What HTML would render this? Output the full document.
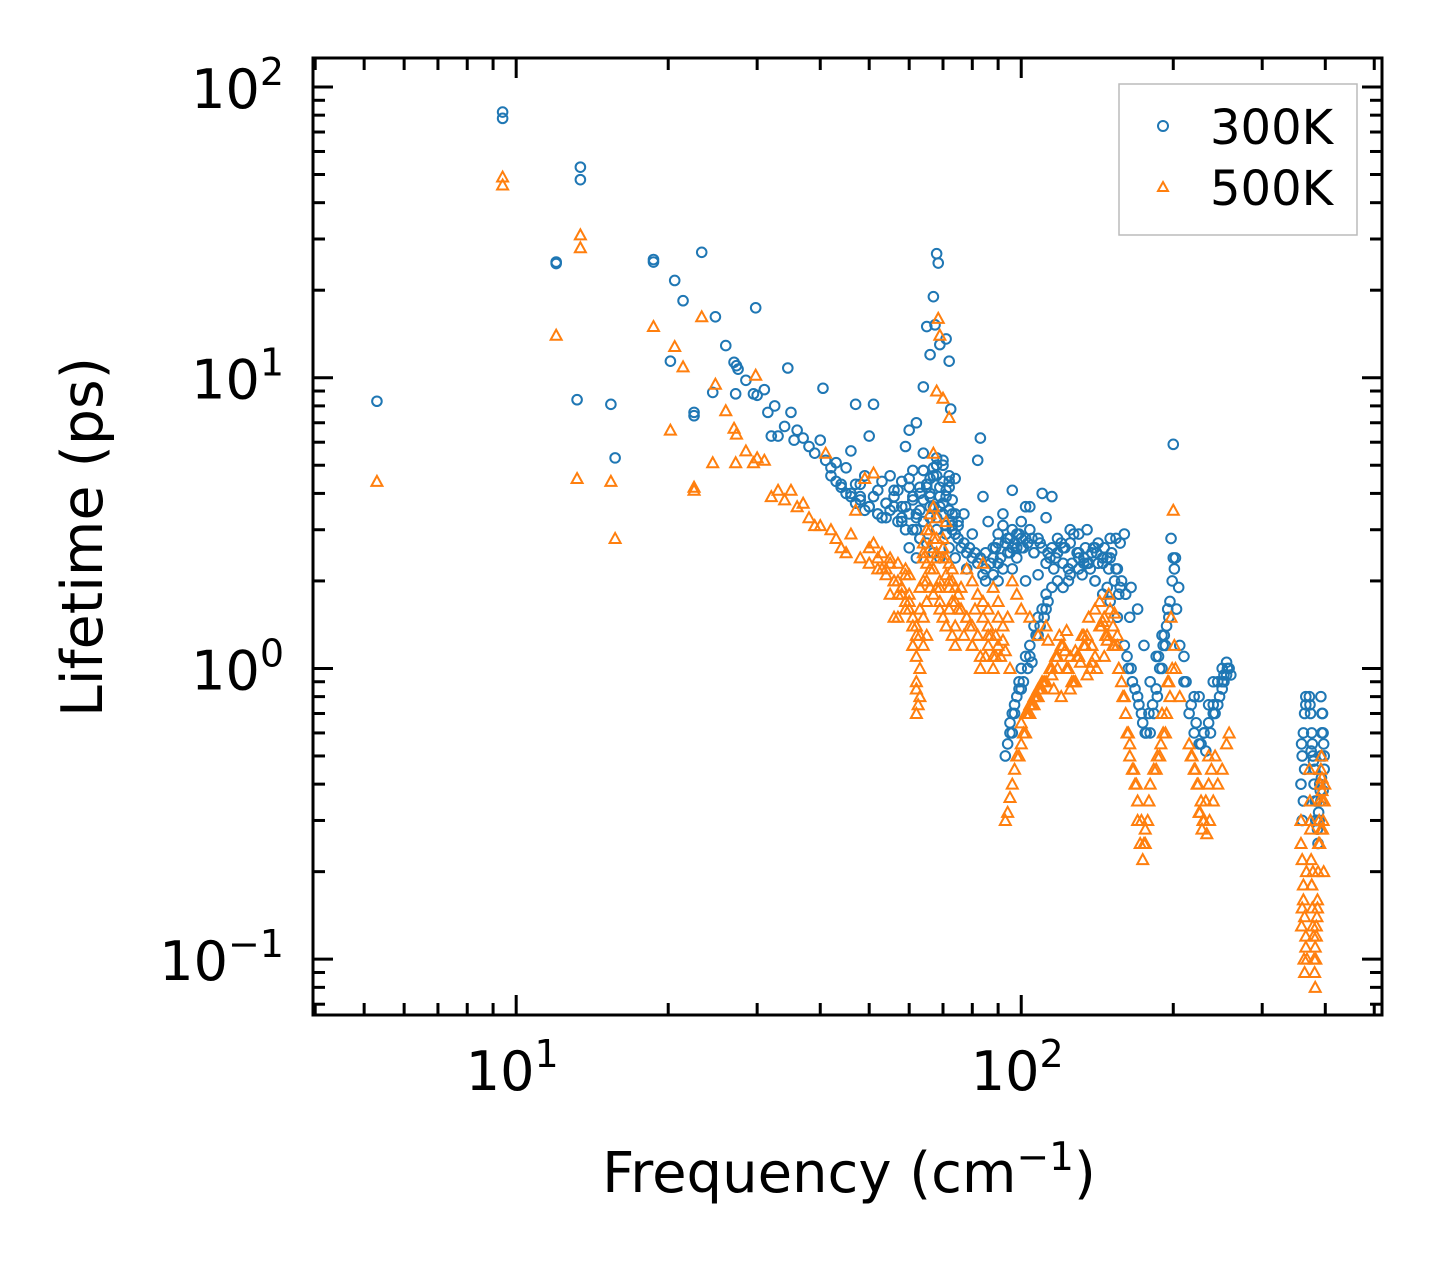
<!DOCTYPE html>
<html><head><meta charset="utf-8"><style>
body{margin:0;background:#fff}
svg text{font-family:"DejaVu Sans","Liberation Sans",sans-serif;fill:#000}
</style></head><body>
<svg id="chart" width="1442" height="1265" viewBox="0 0 1442 1265" xmlns="http://www.w3.org/2000/svg">
<rect width="1442" height="1265" fill="#fff"/>
<g id="marks"></g>
<g id="axes"></g>
<text x="849" y="1192" font-size="56" text-anchor="middle">Frequency (cm<tspan dy="-22" font-size="39">−1</tspan><tspan dy="22">)</tspan></text>
<text transform="translate(102,537) rotate(-90)" font-size="57" text-anchor="middle">Lifetime (ps)</text>
<g>
<rect x="1119" y="84" width="238" height="151" fill="#fff" stroke="#bbb" stroke-width="1.5"/>
<circle cx="1163" cy="126" r="5" fill="none" stroke="#1f77b4" stroke-width="2"/>
<text x="1210" y="144" font-size="48">300K</text>
<polygon points="1163,182 1168,191 1158,191" fill="none" stroke="#ff7f0e" stroke-width="2"/>
<text x="1210" y="205" font-size="48">500K</text>
</g>
</svg>
<script>
const xTicks=[10,100];
const xTickLabels=["10","10"];
const xTickExps=["1","2"];
const yTicks=[0.1,1,10,100];
const yTickLabels=["10","10","10","10"];
const yTickExps=["−1","0","1","2"];
const blueFreq=[5.3,9.4,9.4,12,12,13.2,13.4,13.4,15.4,15.7,18.7,18.7,20.2,20.6,21.4,22.5,22.5,23.3,24.5,24.8,26,27,27.3,27.5,27.2,28.5,29.5,29.8,30,31,31.5,32,32.5,33,34,34.5,35,35.5,36,37,38,39,40,40.5,41,42,43,44,45,46,47,48,49,50,51,52,53,54,55,56,57,58,59,60,61,62,63,64,65,66,67,67.5,68,68.5,69,70,71,72,72.5,73,74,75,77,80,82,83,84,86,88,90,92,95,96,98,100,102,104,106,108,110,112,115,120,125,130,135,140,145,150,155,160,165,170,175,180,185,190,195,198,200,202,205,210,220,230,240,250,255,
42,43,44,45,46,47,48,49,50,52,54,56,58,60,62,63,64,65,66,67,68,69,70,71,72,73,74,75,76,78,80,82,85,88,90,
60,61,62,63,64,65,66,67,68,69,70,71,72,73,74,66,68,70,72,64,
85,88,90,92,94,96,98,100,103,106,110,114,118,122,126,130,134,138,142,146,150,154,158,
93,94,95,96,97,98,99,100,102,104,106,108,110,112,115,118,121,125,130,135,140,145,150,155,
160,163,166,170,173,176,180,183,186,190,193,196,200,203,206,210,
215,220,225,230,235,240,245,250,255,258,225,235,245,252,
372,374,376,378,380,382,384,386,388,390,392,394,395,373,377,381,385,389,393,375,383,391,379,387,
46,48,50,52,53,55,57,59,61,63,65,67,69,71,73,75,47,51,54,58,62,66,70,74,56,60,64,68,72,
77,79,81,83,85,87,89,91,93,95,97,99,101,105,109,113,117,121,125,129,133,137,141,145,149,153,157,161,
78,84,90,96,102,108,116,124,132,140,148,156,164,
95,97,99,101,103,105,107,109,111,113,96,100,104,108,112,
162,165,168,171,174,177,179,182,185,188,191,194,197,199,201,187,192,
212,217,222,227,232,237,242,247,252,256,260,230,240,250,
358,360,362,364,366,398,396,394,392,360,364,398,394,362,396,366,392,359,397,
58,60,62,64,66,68,70,72,74,59,61,63,65,67,69,71,73,
112,118,124,130,136,142,148,154,115,121,127,133,139,145,151,157,
90,92,94,96,98,100,102,104];
const blueLife=[8.3,82,78,25,24.7,8.4,53,48,8.1,5.3,25.5,25,11.4,21.6,18.4,7.6,7.4,27,8.9,16.2,12.9,11.3,11,10.7,8.8,9.8,8.8,17.4,8.7,9.1,7.6,6.3,8,6.3,6.8,10.8,7.6,6.1,6.6,6.2,5.8,5.5,6.1,9.2,5.2,4.9,5.1,4.3,4.9,5.6,8.1,4.3,4.6,6.3,8.1,4.1,4.4,3.7,4.6,3.9,4.1,4.4,5.8,6.6,4.8,7,4.2,9.3,15,12,19,15.2,26.7,24.8,13,5.2,13.6,11.4,7.8,3.8,4.5,3.2,3.4,2.9,5.2,6.2,3.9,3.2,2.6,2.7,3.4,2.5,4.1,2.6,2.8,3.6,3.6,2.5,2.8,4,3.3,3.9,2.7,3,2.5,3,2.6,2.4,2.8,2.2,2.9,1.9,1.6,1.2,0.9,1.1,1.3,1.6,2.8,5.9,2.4,1.9,1.1,0.8,0.6,0.9,1.0,1.05,
4.6,4.4,4.2,4.0,3.9,3.7,3.9,3.5,3.6,3.4,3.3,3.6,3.2,3.4,3.0,2.8,3.8,4.2,4.5,3.6,3.3,3.9,4.4,3.1,3.5,3.0,2.9,2.8,2.6,2.5,2.4,2.3,2.2,2.4,2.3,
2.6,3.0,2.4,2.8,3.2,2.7,3.3,2.5,3.0,2.4,3.4,2.9,2.6,3.1,2.4,4.0,4.6,5.0,4.2,5.5,
2.0,2.1,2.3,2.2,2.5,2.6,2.4,2.6,2.7,2.5,2.6,2.4,2.5,2.6,2.3,2.4,2.6,2.5,2.3,2.6,2.4,2.2,2.0,
0.5,0.55,0.6,0.7,0.75,0.8,0.9,1.0,1.1,1.2,1.4,1.5,1.6,1.8,1.9,2.0,1.9,2.1,2.2,2.3,2.0,1.8,1.7,1.5,
1.2,1.0,0.9,0.8,0.7,0.6,0.6,0.7,0.8,1.0,1.2,1.5,2.4,1.6,1.2,0.9,
0.7,0.6,0.55,0.6,0.65,0.7,0.75,0.85,0.95,1.0,0.8,0.75,0.9,0.95,
0.8,0.7,0.6,0.5,0.4,0.35,0.3,0.28,0.32,0.4,0.5,0.6,0.7,0.75,0.55,0.45,0.35,0.3,0.42,0.52,0.3,0.38,0.48,0.25,
4.0,3.8,3.6,3.4,3.3,3.5,3.2,3.6,3.8,4.0,4.3,4.6,4.2,3.9,3.4,3.1,4.3,3.9,3.7,3.3,3.4,3.6,3.7,2.9,4.1,4.5,4.8,5.0,4.4,
2.7,2.6,2.5,2.4,2.5,2.3,2.6,2.4,2.7,2.8,2.7,2.9,2.6,2.8,2.7,2.5,2.4,2.6,2.7,2.5,2.3,2.2,2.5,2.4,2.2,2.0,1.9,1.8,
2.2,2.1,2.0,2.2,2.0,2.1,2.2,2.0,2.1,2.0,1.9,1.8,1.5,
0.65,0.7,0.85,0.9,1.0,1.05,1.3,1.4,1.5,1.7,0.6,0.85,1.1,1.3,1.6,
1.1,1.0,0.85,0.75,0.65,0.6,0.7,0.75,0.85,1.0,1.2,1.4,1.7,2.0,2.2,1.1,1.3,
0.9,0.75,0.65,0.55,0.52,0.6,0.7,0.8,0.9,1.0,0.95,0.6,0.75,0.9,
0.4,0.5,0.6,0.7,0.75,0.5,0.6,0.7,0.8,0.3,0.45,0.45,0.6,0.35,0.38,0.8,0.35,0.55,0.55,
3.6,4.2,3.3,4.8,3.9,5.3,3.7,4.6,3.4,3.0,3.9,3.5,4.3,4.9,3.6,4.1,3.2,
2.3,2.8,2.2,2.9,2.3,2.7,2.4,2.8,2.6,2.3,2.9,2.4,2.6,2.3,2.5,2.7,
2.9,3.1,2.8,3.0,2.9,3.2,2.8,3.0];
const orangeFreq=[5.3,9.4,9.4,12,13.2,13.4,13.4,15.4,15.7,18.7,20.2,20.6,21.4,22.5,22.5,23.3,24.5,24.8,26,27,27.3,27.2,28.5,29.5,29.8,30,31,32,33,34,35,36,37,38,39,40,41,42,43,44,45,46,47,48,49,50,51,52,
53,54,55,56,57,58,59,60,61,62,62.5,63,64,65,66,67,68,68.5,69,70,71,72,73,74,75,76,78,80,82,84,86,88,90,
55,57,59,60,61,62,63,64,65,66,67,68,69,70,71,72,73,74,64,66,68,70,72,62,62,63,
76,78,80,82,84,86,88,90,92,94,96,98,100,104,108,112,
93,94,95,96,97,98,100,102,104,106,108,110,112,115,118,121,124,127,130,133,136,140,144,148,152,156,120,128,138,146,
160,162,164,166,168,170,172,174,176,178,180,183,186,190,193,196,198,200,202,206,
215,218,221,224,227,230,233,236,240,245,250,255,258,225,235,
372,373,374,375,376,377,378,379,380,381,382,383,384,385,386,387,388,389,390,391,392,393,394,395,374,378,382,386,390,394,376,384,392,
50,52,54,56,58,60,62,64,66,68,70,72,74,51,55,59,63,67,71,75,53,57,61,65,69,73,64,66,68,70,65,67,69,
76,79,82,85,88,91,77,80,83,86,89,78,84,90,
100,102,104,106,108,110,99,101,103,105,107,109,111,
114,117,120,123,126,129,132,135,138,141,144,147,150,153,156,159,116,122,128,134,140,146,152,158,119,125,131,137,143,149,155,
161,164,167,170,173,176,179,163,169,175,
185,188,191,194,197,199,201,189,195,
217,220,223,226,229,232,235,238,242,228,
358,360,362,364,366,368,398,396,358,362,366,397,360,364,399,395,359,363,367,
56,58,60,62,64,66,68,70,72,74,57,59,61,63,65,67,69,71,73,
113,118,123,128,133,138,143,148,153,115,125,135,145,155,
80,83,86,89,92,95,81,87,93];
const orangeLife=[4.4,49,46,14,4.5,31,28,4.4,2.8,15,6.6,12.8,10.9,4.2,4.1,16.2,5.1,9.5,7.7,6.7,6.4,5.1,5.6,5.1,10.2,5.3,5.2,3.9,4.1,3.8,4.1,3.6,3.7,3.3,3.1,3.1,5.5,3.0,2.8,2.6,2.5,2.9,3.5,2.4,4.5,2.3,4.7,2.2,
2.5,2.1,2.4,2.0,2.3,1.9,1.7,1.6,1.5,1.1,0.75,1.3,2.4,3.0,3.4,5.5,9.0,16,14,8.5,3.2,7.3,2.2,1.9,1.8,1.6,1.5,1.4,1.3,1.5,1.3,1.1,1.2,
1.8,1.5,2.2,1.7,1.4,0.9,0.8,1.2,2.0,2.6,2.2,1.9,1.7,2.8,1.4,1.6,1.3,1.2,2.5,3.0,2.8,2.4,2.0,0.7,0.85,1.0,
1.9,2.2,2.0,1.8,2.3,1.6,1.9,1.7,1.4,1.5,2.0,1.8,1.6,1.5,1.3,1.4,
0.3,0.32,0.36,0.4,0.45,0.5,0.55,0.6,0.7,0.75,0.8,0.85,0.9,1.0,1.1,1.2,1.0,0.9,1.1,1.3,1.5,1.6,1.4,1.3,1.2,1.0,0.8,0.9,1.2,1.1,
0.8,0.6,0.5,0.45,0.4,0.3,0.25,0.22,0.25,0.3,0.4,0.45,0.5,0.7,0.6,0.9,1.5,3.5,1.0,0.8,
0.55,0.5,0.45,0.4,0.35,0.3,0.27,0.3,0.35,0.4,0.45,0.55,0.6,0.32,0.5,
0.45,0.35,0.28,0.22,0.18,0.15,0.13,0.12,0.1,0.09,0.08,0.1,0.12,0.14,0.16,0.2,0.25,0.3,0.35,0.4,0.45,0.5,0.42,0.35,0.3,0.2,0.11,0.15,0.25,0.38,0.18,0.13,0.28,
2.6,2.4,2.2,2.0,1.9,1.8,1.4,2.0,2.2,2.5,2.6,2.3,1.7,2.7,2.3,2.1,1.6,2.8,2.1,1.6,2.2,1.8,1.2,1.7,1.9,2.0,1.5,1.9,2.4,1.5,1.3,1.8,1.6,
1.6,1.4,1.3,1.1,1.0,1.1,1.3,1.2,1.1,1.2,1.3,1.5,1.7,1.5,
0.65,0.7,0.75,0.8,0.85,0.9,0.5,0.6,0.7,0.75,0.8,0.85,0.9,
1.0,1.1,1.2,1.0,0.9,1.1,1.3,0.95,1.2,1.0,1.4,1.3,1.6,1.2,1.0,0.8,0.85,1.15,0.9,1.2,1.1,1.5,1.4,0.9,1.3,0.85,1.05,1.0,1.7,1.8,1.3,
0.7,0.55,0.45,0.35,0.3,0.28,0.35,0.6,0.4,0.25,
0.45,0.5,0.6,0.7,0.8,1.0,1.2,0.55,0.9,
0.5,0.45,0.4,0.32,0.3,0.35,0.4,0.45,0.5,0.28,
0.3,0.22,0.18,0.14,0.12,0.1,0.35,0.3,0.25,0.16,0.11,0.2,0.15,0.09,0.4,0.28,0.13,0.1,0.2,
1.5,1.8,2.1,1.3,2.7,2.2,3.3,2.6,1.9,1.4,2.0,1.6,1.2,1.9,2.3,3.6,2.0,2.4,1.7,
1.25,1.0,1.35,1.15,1.2,1.05,1.4,1.25,1.55,0.95,1.1,1.3,1.45,1.2,
1.2,1.0,1.4,1.1,1.25,1.0,1.6,1.3,1.15];

const L=313,R=1382,T=58,B=1015;
const xmin=Math.log10(3.96),xmax=Math.log10(518);
const ymin=-1.192,ymax=2.0997;
const xs=v=>L+(Math.log10(v)-xmin)/(xmax-xmin)*(R-L);
const ys=v=>B-(Math.log10(v)-ymin)/(ymax-ymin)*(B-T);
const NS="http://www.w3.org/2000/svg";
const marks=document.getElementById('marks');
const axes=document.getElementById('axes');
function mk(tag,attrs,parent){const e=document.createElementNS(NS,tag);for(const k in attrs)e.setAttribute(k,attrs[k]);parent.appendChild(e);return e;}

blueFreq.forEach((f,i)=>{
  const c=mk('circle',{cx:xs(f),cy:ys(blueLife[i]),r:4.8,fill:'none',stroke:'#1f77b4','stroke-width':2},marks);
  
  
});
orangeFreq.forEach((f,i)=>{
  const x=xs(f),y=ys(orangeLife[i]);
  const p=mk('polygon',{points:`${x},${y-5.5} ${x+5.5},${y+4.5} ${x-5.5},${y+4.5}`,fill:'none',stroke:'#ff7f0e','stroke-width':2},marks);
  
  
});

const frame=mk('rect',{x:L,y:T,width:R-L,height:B-T,fill:'none',stroke:'#000','stroke-width':3},axes);



function tick(x1,y1,x2,y2,w){mk('line',{x1,y1,x2,y2,stroke:'#000','stroke-width':w},axes);}
for(let d=0;d<=3;d++){for(let m=1;m<10;m++){const v=m*Math.pow(10,d);const x=xs(v);if(x<L||x>R)continue;const len=m==1?20:12;tick(x,B,x,B-len,3);tick(x,T,x,T+len,3);}}
for(let d=-2;d<=2;d++){for(let m=1;m<10;m++){const v=m*Math.pow(10,d);const y=ys(v);if(y<T||y>B)continue;const len=m==1?20:12;tick(L,y,L+len,y,3);tick(R,y,R-len,y,3);}}

xTicks.forEach((v,i)=>{
  const t=mk('text',{x:xs(v)-4,y:1090,'font-size':54,'text-anchor':'middle'},axes);
  
  
  t.innerHTML=xTickLabels[i]+`<tspan dy="-23" font-size="38">${xTickExps[i]}</tspan>`;
});
yTicks.forEach((v,i)=>{
  const t=mk('text',{x:284,y:ys(v)+21,'font-size':54,'text-anchor':'end'},axes);
  
  
  t.innerHTML=yTickLabels[i]+`<tspan dy="-23" font-size="38">${yTickExps[i]}</tspan>`;
});
</script>
</body></html>
